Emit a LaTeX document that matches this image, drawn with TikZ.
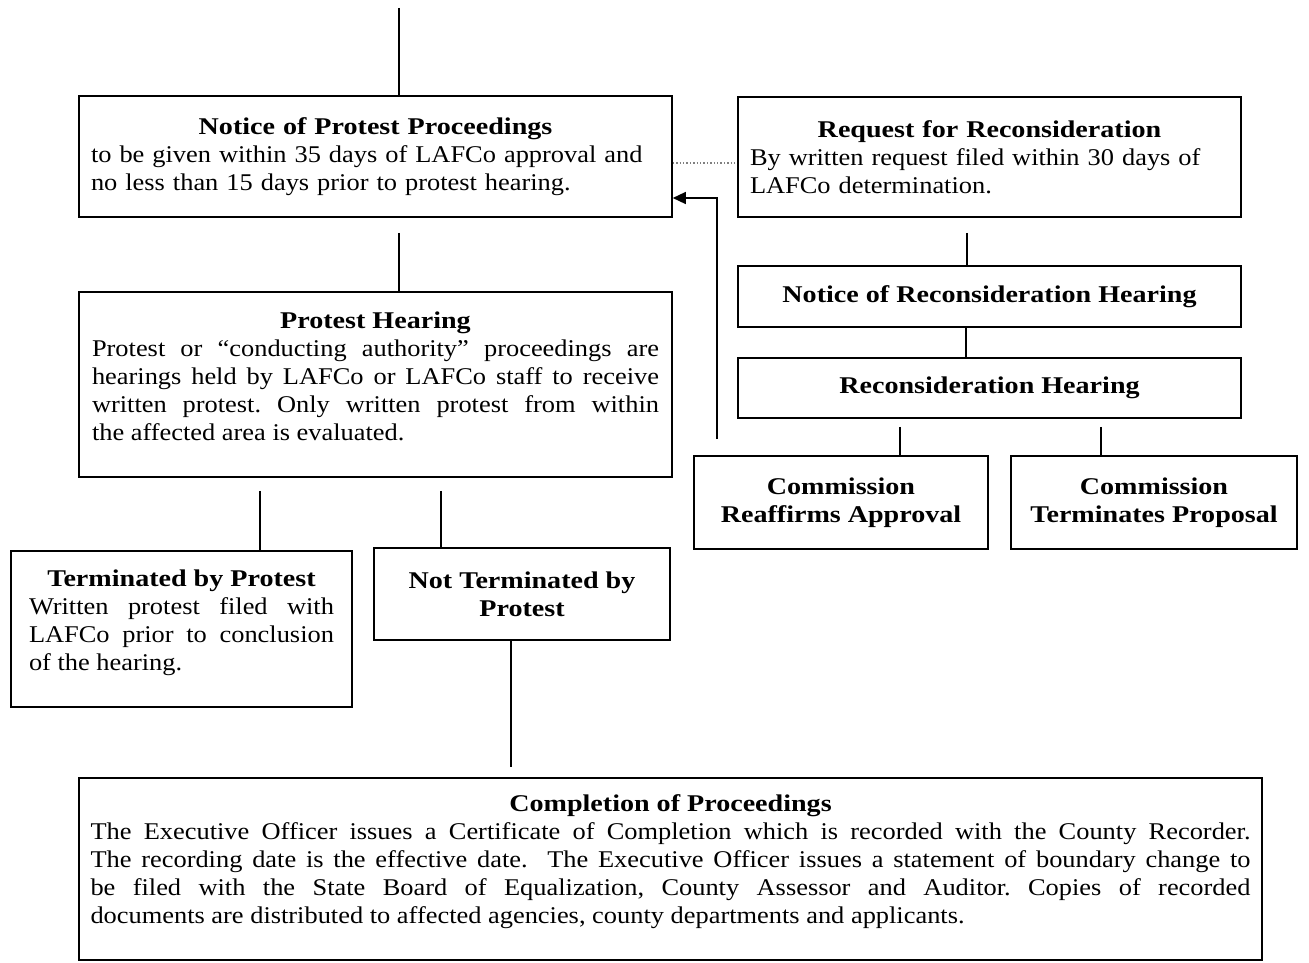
\documentclass[tikz,border=0pt]{standalone}
\usepackage{fontspec}
\setmainfont{Liberation Serif}[FakeStretch=1.1, BoldFeatures={FakeStretch=1.17}]
\usetikzlibrary{arrows.meta}
\tikzstyle{base} = [draw, line width=1.6pt, inner sep=0pt, font=\fontsize{24}{28}\selectfont\frenchspacing]
\tikzstyle{stage} = [base, align=center, font=\fontsize{24}{28}\selectfont\bfseries]
\tikzstyle{info} = [base, align=justify]
\tikzstyle{notes} = [base, align=left]
\tikzstyle{connector} = [draw, line width=1.4pt]
\tikzstyle{return} = [connector, -{Triangle[length=13pt, width=12pt]}]
\tikzstyle{link} = [draw, line width=1.4pt, dotted, gray]

\begin{document}
\begin{tikzpicture}[x=1pt, y=-1pt]
	\useasboundingbox (0,0) rectangle (1309,963);

	\coordinate (start) at (399, 8);
	\coordinate (bend) at (717, 198);

	% protest proceedings
	\node [notes, minimum width=593pt, minimum height=121pt, text width=569pt] at (375.5, 156.5) (notice) {\makebox[\linewidth]{\bfseries Notice of Protest Proceedings}\\ to be given within 35 days of LAFCo approval and\\ no less than 15 days prior to protest hearing.};
	\node [info, minimum width=593pt, minimum height=185pt, text width=567pt] at (375.5, 384.5) (hearing) {\makebox[\linewidth]{\bfseries Protest Hearing}\\ Protest or “conducting authority” proceedings are\linebreak hearings held by LAFCo or LAFCo staff to receive\linebreak written protest. Only written protest from within\linebreak the affected area is evaluated.\par\vspace{-11pt}\null};
	\node [info, minimum width=341pt, minimum height=156pt, text width=305pt] at (181.5, 629) (terminated) {\makebox[\linewidth]{\bfseries Terminated by Protest}\\ Written protest filed with\linebreak LAFCo prior to conclusion\linebreak of the hearing.\par\vspace{-11pt}\null};
	\node [stage, minimum width=296pt, minimum height=92pt] at (522, 594) (not terminated) {Not Terminated by\\Protest};
	\node [info, minimum width=1183pt, minimum height=182pt, text width=1160pt] at (670.5, 869) (completion) {\makebox[\linewidth]{\bfseries Completion of Proceedings}\\ The Executive Officer issues a Certificate of Completion which is recorded with the County Recorder.\linebreak The recording date is the effective date. \ The Executive Officer issues a statement of boundary change to\linebreak be filed with the State Board of Equalization, County Assessor and Auditor. Copies of recorded\linebreak documents are distributed to affected agencies, county departments and applicants.\par\vspace{-9pt}\null};

	% reconsideration
	\node [notes, minimum width=503pt, minimum height=120pt, text width=479pt] at (989.5, 157) (request) {\makebox[\linewidth]{\bfseries Request for Reconsideration}\\ By written request filed within 30 days of\\ LAFCo determination.};
	\node [stage, minimum width=503pt, minimum height=61pt] at (989.5, 296.5) (rec notice) {Notice of Reconsideration Hearing};
	\node [stage, minimum width=503pt, minimum height=60pt] at (989.5, 388) (rec hearing) {Reconsideration Hearing};
	\node [stage, minimum width=294pt, minimum height=93pt] at (841, 502.5) (reaffirms) {Commission\\Reaffirms Approval};
	\node [stage, minimum width=286pt, minimum height=93pt] at (1154, 502.5) (terminates) {Commission\\Terminates Proposal};

	\path [connector] (start) -- (start |- notice.north);
	\path [connector, shorten <=15pt] (start |- notice.south) -- (start |- hearing.north);
	\path [connector, shorten <=13pt] (260,0 |- hearing.south) -- (260,0 |- terminated.north);
	\path [connector, shorten <=13pt] (441,0 |- hearing.south) -- (441,0 |- not terminated.north);
	\path [connector, shorten >=10pt] (511,0 |- not terminated.south) -- (511,0 |- completion.north);

	\path [connector, shorten <=15pt] (967,0 |- request.south) -- (967,0 |- rec notice.north);
	\path [connector] (966,0 |- rec notice.south) -- (966,0 |- rec hearing.north);
	\path [connector, shorten <=8pt] (900,0 |- rec hearing.south) -- (900,0 |- reaffirms.north);
	\path [connector, shorten <=8pt] (1101,0 |- rec hearing.south) -- (1101,0 |- terminates.north);

	\path [return, shorten <=16pt] (bend |- reaffirms.north) -- (bend) -- (bend -| notice.east);
	\path [link] ([yshift=-6.5pt]notice.east) -- ([yshift=-6.5pt]notice.east -| request.west);
\end{tikzpicture}
\end{document}
